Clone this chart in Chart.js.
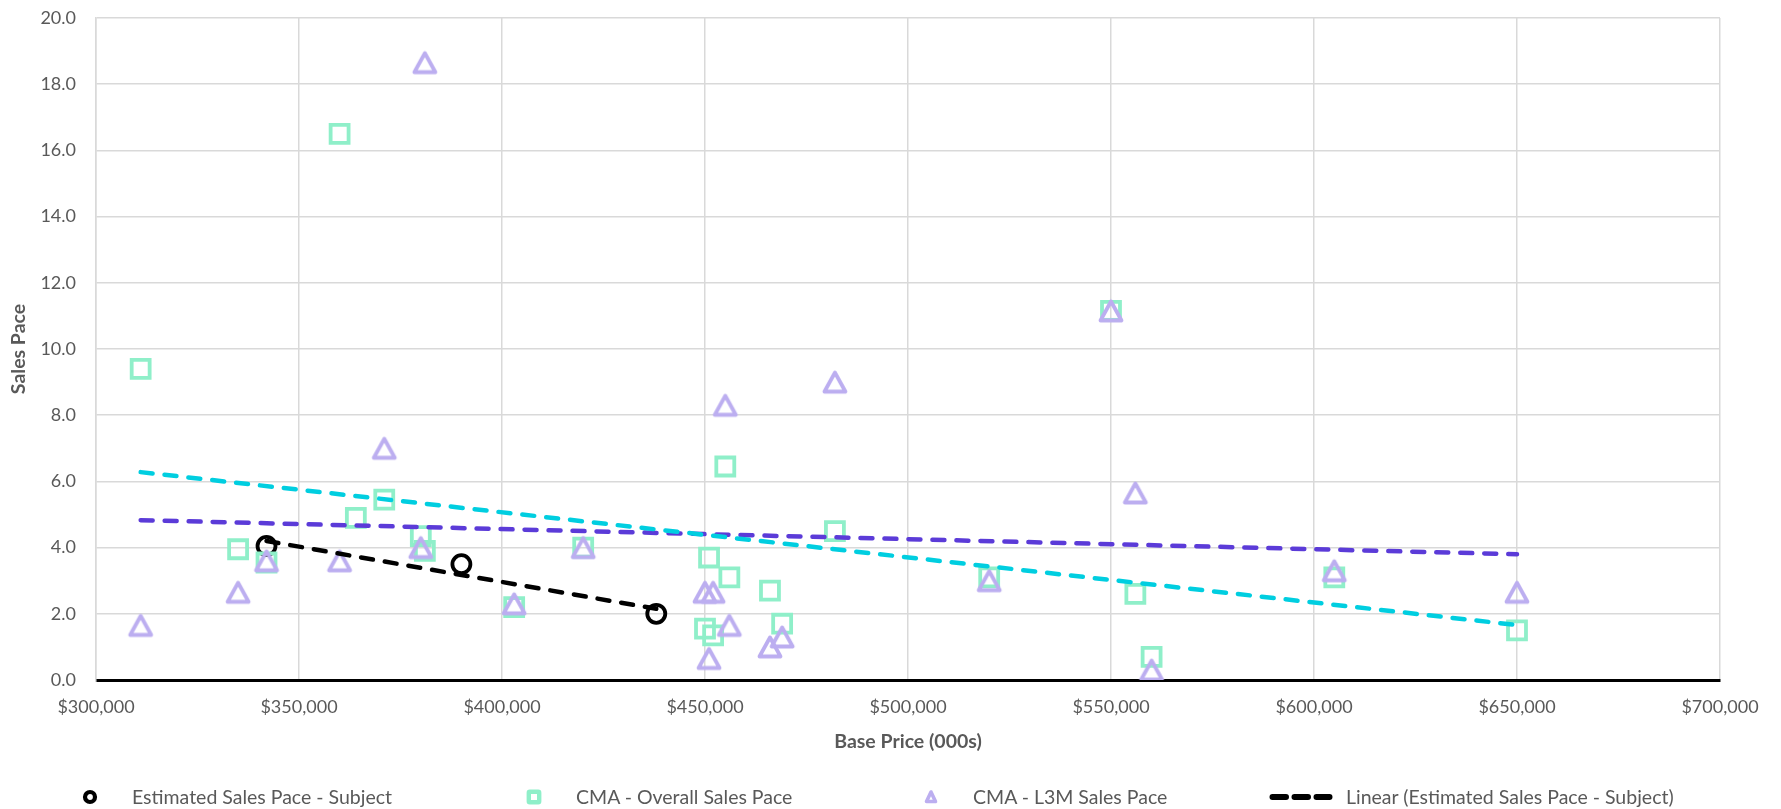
<!DOCTYPE html>
<html>
<head>
<meta charset="utf-8">
<title>Sales Pace vs Base Price</title>
<script src="https://cdn.jsdelivr.net/npm/chart.js@4.4.0/dist/chart.umd.min.js"></script>
<style>
  html, body { margin: 0; padding: 0; background: #fff; }
  #wrap { position: relative; width: 1781px; height: 809px; }
  #legend { position: absolute; left: 0; top: 785px; width: 1781px; height: 24px;
    font: 19.5px Lato, sans-serif; color: #595959; }
  #legend svg, #legend span { position: absolute; }
  #legend span { top: 0; line-height: 24px; white-space: nowrap; }
</style>
</head>
<body>
<div id="wrap">
  <canvas id="SalesPaceChart"></canvas>
  <div id="legend"></div>
</div>
<script>
// series names
const seriesNames = [
  'Estimated Sales Pace - Subject',
  'CMA - Overall Sales Pace',
  'CMA - L3M Sales Pace',
  'Linear (Estimated Sales Pace - Subject)'
]

// subject community
const subjectPrice = [342000, 390000, 438000]
const subjectPace = [4.05, 3.5, 2.0]

// CMA communities (shared base prices)
const cmaPrice = [311000, 335000, 342000, 360000, 364000, 371000, 380000, 381000,
  403000, 420000, 450000, 451000, 452000, 455000, 456000, 466000, 469000, 482000,
  520000, 550000, 556000, 560000, 605000, 650000]
const overallPace = [9.4, 3.95, 3.55, 16.5, 4.9, 5.45, 4.35, 3.9,
  2.2, 4.0, 1.55, 3.7, 1.35, 6.45, 3.1, 2.7, 1.7, 4.5,
  3.1, 11.15, 2.6, 0.7, 3.1, 1.5]
const l3mPace = [1.65, 2.65, 3.6, 3.6, null, 7.0, 4.0, 18.65,
  2.3, 4.0, 2.65, 0.65, 2.65, 8.3, 1.65, 1.0, 1.3, 9.0,
  3.0, 11.15, 5.65, 0.3, 3.3, 2.65]

// trendline end points
const subjectTrendPrice = [342000, 438000]
const subjectTrendPace = [4.2, 2.15]
const overallTrendPrice = [311000, 650000]
const overallTrendPace = [6.28, 1.66]
const l3mTrendPrice = [311000, 650000]
const l3mTrendPace = [4.83, 3.8]

const xTicks = [300000, 700000, 50000] // min, max, step
const yTicks = [0, 20, 2]

const COLORS = {
  subject: '#000000',
  overall: '#8FEFC9',
  l3m: '#BCAEF0',
  overallTrend: '#00CEE0',
  l3mTrend: '#5B3BD8',
  text: '#595959',
  grid: '#D9D9D9'
}

const toPoints = (xs, ys) =>
  xs.map((x, i) => ({ x: x, y: ys[i] })).filter((p) => p.y !== null)

// Excel style triangle, centred on its bounding box
function makeTriangle(color) {
  const c = document.createElement('canvas')
  c.width = 30
  c.height = 30
  const g = c.getContext('2d')
  g.strokeStyle = color
  g.lineWidth = 3.8
  g.lineJoin = 'round'
  g.beginPath()
  g.moveTo(15, 5.5)
  g.lineTo(25.5, 24.5)
  g.lineTo(4.5, 24.5)
  g.closePath()
  g.stroke()
  return c
}

const trendStyle = {
  showLine: true,
  pointRadius: 0,
  borderWidth: 4.5,
  borderDash: [12, 12],
  borderCapStyle: 'round',
  fill: false,
  order: 0
}

const tickFont = { family: 'Lato', size: 18 }
const titleFont = { family: 'Lato', size: 19.5, weight: 'bold' }

const ctx = document.getElementById('SalesPaceChart')
const salesPaceChart = new Chart(ctx, {
  type: 'scatter',
  data: {
    datasets: [
      {
        label: seriesNames[0],
        data: toPoints(subjectPrice, subjectPace),
        pointStyle: 'circle',
        pointRadius: 9,
        pointBorderWidth: 3.8,
        borderColor: COLORS.subject,
        backgroundColor: 'rgba(0,0,0,0)',
        order: 3
      },
      {
        label: seriesNames[1],
        data: toPoints(cmaPrice, overallPace),
        pointStyle: 'rect',
        pointRadius: 12.7,
        pointBorderWidth: 3.8,
        borderColor: COLORS.overall,
        backgroundColor: 'rgba(0,0,0,0)',
        order: 2
      },
      {
        label: seriesNames[2],
        data: toPoints(cmaPrice, l3mPace),
        pointStyle: makeTriangle(COLORS.l3m),
        pointRadius: 12,
        borderColor: COLORS.l3m,
        backgroundColor: 'rgba(0,0,0,0)',
        order: 1
      },
      Object.assign({
        label: seriesNames[3],
        data: toPoints(subjectTrendPrice, subjectTrendPace),
        borderColor: COLORS.subject
      }, trendStyle),
      Object.assign({
        label: 'Linear (CMA - Overall Sales Pace)',
        data: toPoints(overallTrendPrice, overallTrendPace),
        borderColor: COLORS.overallTrend
      }, trendStyle),
      Object.assign({
        label: 'Linear (CMA - L3M Sales Pace)',
        data: toPoints(l3mTrendPrice, l3mTrendPace),
        borderColor: COLORS.l3mTrend
      }, trendStyle)
    ]
  },
  options: {
    responsive: true,
    maintainAspectRatio: false,
    animation: false,
    layout: { padding: { top: 18, right: 61, left: 0, bottom: 0 } },
    plugins: {
      legend: { display: false },
      tooltip: { enabled: false }
    },
    scales: {
      x: {
        type: 'linear',
        min: xTicks[0],
        max: xTicks[1],
        ticks: {
          stepSize: xTicks[2],
          color: COLORS.text,
          font: tickFont,
          padding: 16,
          maxRotation: 0,
          autoSkip: false,
          callback: (value) => '$' + value.toLocaleString('en-US')
        },
        grid: { color: COLORS.grid, lineWidth: 1.5, drawTicks: false },
        border: { color: '#000', width: 3 },
        title: {
          display: true,
          text: 'Base Price (000s)',
          color: COLORS.text,
          font: titleFont,
          padding: { top: 0, bottom: 56 }
        },
        afterFit: (scale) => { scale.height = 129 }
      },
      y: {
        min: yTicks[0],
        max: yTicks[1],
        ticks: {
          stepSize: yTicks[2],
          color: COLORS.text,
          font: tickFont,
          padding: 20,
          callback: (value) => value.toFixed(1)
        },
        grid: {
          color: (c) => (c.tick && c.tick.value === 0 ? '#000' : COLORS.grid),
          lineWidth: (c) => (c.tick && c.tick.value === 0 ? 3 : 1.5),
          drawTicks: false
        },
        border: { color: COLORS.grid, width: 1.5 },
        title: {
          display: true,
          text: 'Sales Pace',
          color: COLORS.text,
          font: titleFont,
          padding: { top: 7, bottom: 0 }
        },
        afterFit: (scale) => {
          scale.width = 96
          scale.paddingTop = 0
          scale.paddingBottom = 0
        }
      }
    }
  }
})

// legend built like the Excel one (wide spacing between entries)
const legendLayout = [
  { marker: 'circle', color: COLORS.subject, x: 90, textX: 132 },
  { marker: 'square', color: COLORS.overall, x: 534, textX: 576 },
  { marker: 'triangle', color: COLORS.l3m, x: 931, textX: 973 },
  { marker: 'line', color: COLORS.subject, x: 1301, textX: 1346 }
]

function markerSvg(item) {
  if (item.marker === 'line') {
    return '<svg width="70" height="12" style="left:' + (item.x - 35) + 'px;top:6px">' +
      '<line x1="6.5" y1="6" x2="63.5" y2="6" stroke="' + item.color +
      '" stroke-width="6" stroke-dasharray="13.5 8.5" stroke-linecap="round"/></svg>'
  }
  let shape = ''
  if (item.marker === 'circle') {
    shape = '<circle cx="10" cy="10" r="5" fill="none" stroke="' + item.color + '" stroke-width="4.2"/>'
  } else if (item.marker === 'square') {
    shape = '<rect x="4.8" y="4.8" width="10.4" height="10.4" rx="1" fill="none" stroke="' + item.color + '" stroke-width="4.4"/>'
  } else {
    shape = '<path d="M10 5 L14.5 14.5 L5.5 14.5 Z" fill="none" stroke="' + item.color +
      '" stroke-width="3.6" stroke-linejoin="round"/>'
  }
  return '<svg width="20" height="20" style="left:' + (item.x - 10) + 'px;top:2px">' + shape + '</svg>'
}

const legendEl = document.getElementById('legend')
legendEl.innerHTML = legendLayout
  .map((item, i) => markerSvg(item) +
    '<span style="left:' + item.textX + 'px">' + seriesNames[i] + '</span>')
  .join('')
</script>
</body>
</html>
